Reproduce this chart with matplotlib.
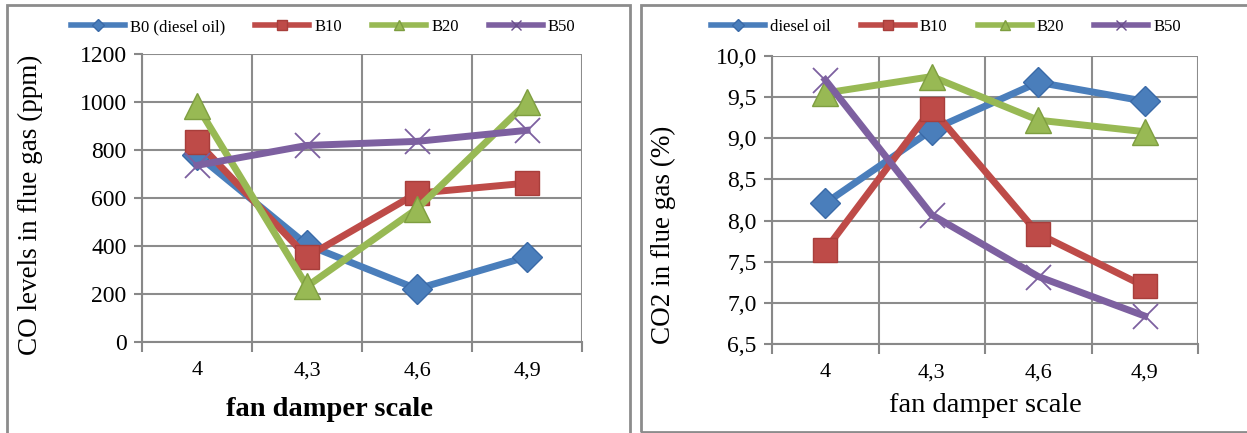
import numpy as np
import matplotlib
matplotlib.use("Agg")
import matplotlib.pyplot as plt
from matplotlib.patches import Rectangle

plt.rcParams['font.family'] = ['Liberation Serif', 'DejaVu Serif']

# data
damper = ['4', '4,3', '4,6', '4,9']

co_b0 = [780, 405, 221, 355]
co_b10 = [835, 355, 620, 662]
co_b20 = [985, 232, 555, 998]
co_b50 = [736, 819, 836, 882]

co2_diesel = [8.21, 9.10, 9.68, 9.45]
co2_b10 = [7.64, 9.36, 7.84, 7.20]
co2_b20 = [9.55, 9.75, 9.22, 9.08]
co2_b50 = [9.71, 8.07, 7.32, 6.84]

left_labels = ['B0 (diesel oil)', 'B10', 'B20', 'B50']
right_labels = ['diesel oil', 'B10', 'B20', 'B50']

colors = ['#4a7ebb', '#be4b48', '#98b954', '#7d60a0']
edges = ['#3a6aa8', '#a83e3b', '#7e9e40', '#6a4e8c']
markers = ['D', 's', '^', 'x']
msizes = [15, 17, 19, 18]

W, H = 1247, 433
fig = plt.figure(figsize=(W / 100, H / 100), dpi=100)

# panel frames
for (x0, x1, y0, y1) in [(7, 630, 5, 440), (641, 1260, 5, 432)]:
    fig.patches.append(Rectangle((x0 / W, 1 - y1 / H), (x1 - x0) / W, (y1 - y0) / H,
                                 transform=fig.transFigure, fill=False,
                                 edgecolor='#8c8c8c', linewidth=2, clip_on=False))


def draw(ax, series, labels, ylim, step, fmt, ylabel, xbold, legx, ylab_xy, xlab_xy):
    x = np.arange(len(damper))
    for i, vals in enumerate(series):
        mk = markers[i]
        if mk == 'x':
            ax.plot(x, vals, color=colors[i], lw=5, marker='x', ms=msizes[i],
                    mew=1.3, mec=colors[i], zorder=3)
        else:
            ax.plot(x, vals, color=colors[i], lw=5, marker=mk, ms=msizes[i],
                    mfc=colors[i], mec=edges[i], mew=1, zorder=3)
    ax.set_xlim(-0.5, 3.5)
    ax.set_ylim(*ylim)
    yt = np.arange(ylim[0], ylim[1] + step / 2, step)
    ax.set_yticks(yt)
    ax.set_yticklabels([fmt(v) for v in yt])
    ax.set_xticks(x)
    ax.set_xticklabels(damper)
    ax.set_xticks(np.arange(-0.5, 3.6, 1), minor=True)
    ax.tick_params(axis='x', which='major', length=0, labelsize=16, pad=14)
    ax.tick_params(axis='x', which='minor', length=7, width=1.5, color='#888888', direction='out')
    ax.tick_params(axis='y', length=6, width=1.5, color='#888888', labelsize=17, pad=5)
    ax.grid(True, axis='y', color='#8c8c8c', lw=1.5)
    ax.grid(True, axis='x', which='minor', color='#8c8c8c', lw=1.5)
    ax.set_axisbelow(True)
    for s in ['top', 'right']:
        ax.spines[s].set_visible(False)
    for s in ['left', 'bottom']:
        ax.spines[s].set_color('#888888')
        ax.spines[s].set_linewidth(1.5)
    ax.set_ylabel(ylabel, fontsize=19.5, va='center', ha='center')
    ax.yaxis.set_label_coords(*ylab_xy)
    ax.set_xlabel('fan damper scale', fontsize=20.5, va='center', ha='center',
                  fontweight='bold' if xbold else 'normal')
    ax.xaxis.set_label_coords(*xlab_xy)
    handles = [plt.Line2D([], [], color=colors[i], lw=4, marker=markers[i],
                          ms=7 if markers[i] != 'D' else 6, mfc=colors[i],
                          mec=edges[i], mew=1)
               for i in range(4)]
    ax.legend(handles=handles, labels=labels, loc='center',
              bbox_to_anchor=(legx, 1 - 27 / H), bbox_transform=fig.transFigure,
              ncol=4, frameon=False, fontsize=12, handlelength=3.25,
              columnspacing=1.8, handletextpad=0.3)


# left chart: axes 142..582 px wide, 54..342 px high
ax1 = fig.add_axes([142 / W, 1 - 342 / H, 440 / W, 288 / H])
draw(ax1, [co_b0, co_b10, co_b20, co_b50], left_labels, (0, 1200), 200,
     lambda v: f'{int(v)}', 'CO levels in flue gas (ppm)', True, 323 / W,
     ((30 - 142) / 440, (342 - 205) / 288), ((330 - 142) / 440, (342 - 410) / 288))

# right chart: axes 772..1198 px wide, 56..344 px high
ax2 = fig.add_axes([772 / W, 1 - 344 / H, 426 / W, 288 / H])
draw(ax2, [co2_diesel, co2_b10, co2_b20, co2_b50], right_labels, (6.5, 10.0), 0.5,
     lambda v: f'{v:.1f}'.replace('.', ','), 'CO2 in flue gas (%)', False, 946 / W,
     ((663 - 772) / 426, (344 - 235) / 288), ((985 - 772) / 426, (344 - 405) / 288))

fig.savefig('out.png', dpi=100)
